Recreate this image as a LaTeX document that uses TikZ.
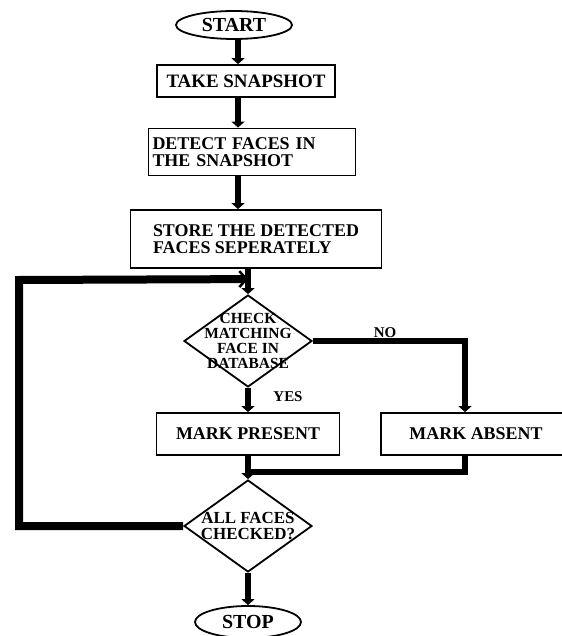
\documentclass[tikz,border=0pt]{standalone}
\usepackage{fontspec}
\setmainfont{Liberation Serif}
\usepackage{tikz}
\usetikzlibrary{shapes.geometric, arrows.meta}

\begin{document}
\begin{tikzpicture}[x=1bp, y=-1bp,
    box/.style={draw, line width=1.8bp, rectangle, inner sep=0pt,
        font=\bfseries\fontsize{18}{17}\selectfont},
    term/.style={draw, line width=1.8bp, ellipse, inner sep=0pt,
        font=\bfseries\fontsize{20}{20}\selectfont},
    decision/.style={draw, line width=1.8bp, diamond, inner sep=0pt,
        minimum width=128bp, minimum height=92bp},
    dtext/.style={align=center, font=\bfseries\fontsize{15.5}{15}\selectfont},
    flow/.style={line width=6.5bp, -{Triangle[width=13bp, length=6bp]}},
    flowline/.style={line width=6.5bp}]
    \useasboundingbox (0,0) rectangle (562,636);

    % Start and first steps
    \node[term, minimum width=116bp, minimum height=28bp] (start) at (234,25) {START};
    \node[box, minimum width=178bp, minimum height=32bp, font=\bfseries\fontsize{19}{17}\selectfont] (snap) at (246,81) {TAKE SNAPSHOT};
    \node[box, minimum width=207bp, minimum height=47bp, text width=199bp, align=left] (detect) at (252,152) {DETECT FACES IN\\THE SNAPSHOT};
    \node[box, minimum width=251bp, minimum height=58bp, align=left] (store) at (256,239) {STORE THE DETECTED\\FACES SEPERATELY};

    % Check against database
    \node[decision] (chk) at (248,341) {};
    \node[dtext] (chkt) at (chk) {CHECK\\MATCHING\\FACE IN\\DATABASE};
    \node[box, minimum width=183bp, minimum height=42bp] (present) at (248,434) {MARK PRESENT};
    \node[box, minimum width=190bp, minimum height=42bp] (absent) at (476,434) {MARK ABSENT};
    \node[font=\bfseries\fontsize{15}{15}\selectfont] (no) at (385,333) {NO};
    \node[font=\bfseries\fontsize{15}{15}\selectfont] (yes) at (288,397) {YES};

    % All checked?
    \node[decision] (all) at (248,526) {};
    \node[dtext, font=\bfseries\fontsize{17}{17}\selectfont] (allt) at (all) {ALL FACES\\CHECKED?};
    \node[term, minimum width=106bp, minimum height=32bp] (stop) at (248,622) {STOP};

    % Coordinates for the loop and the merge
    \path (chk.north) ++(0,-15) coordinate (loopin);
    \coordinate (corner) at (19,280);
    \path (present.south) ++(0,16) coordinate (merge);
    \coordinate (trunk) at (238,0);

    % Connectors
    \draw[flow] (start.south -| trunk) -- (snap.north -| trunk);
    \draw[flow] (snap.south -| trunk) -- (detect.north -| trunk);
    \draw[flow] (detect.south -| trunk) -- (store.north -| trunk);
    \draw[flow] (store.south -| chk.north) -- (chk.north);
    \draw[flow] (chk.east) -| ([xshift=-11bp]absent.north);
    \draw[flow] (chk.south) -- (present.north);
    \draw[flow] (present.south) -- (all.north);
    \draw[flowline] ([xshift=-11bp]absent.south) |- (merge);
    \draw[flow] (all.south) -- (stop.north);
    \draw[line width=8bp, -{Straight Barb[length=7bp, width=16bp, line width=2.5bp]}] (all.west) -| (corner) -- (loopin);
\end{tikzpicture}
\end{document}
